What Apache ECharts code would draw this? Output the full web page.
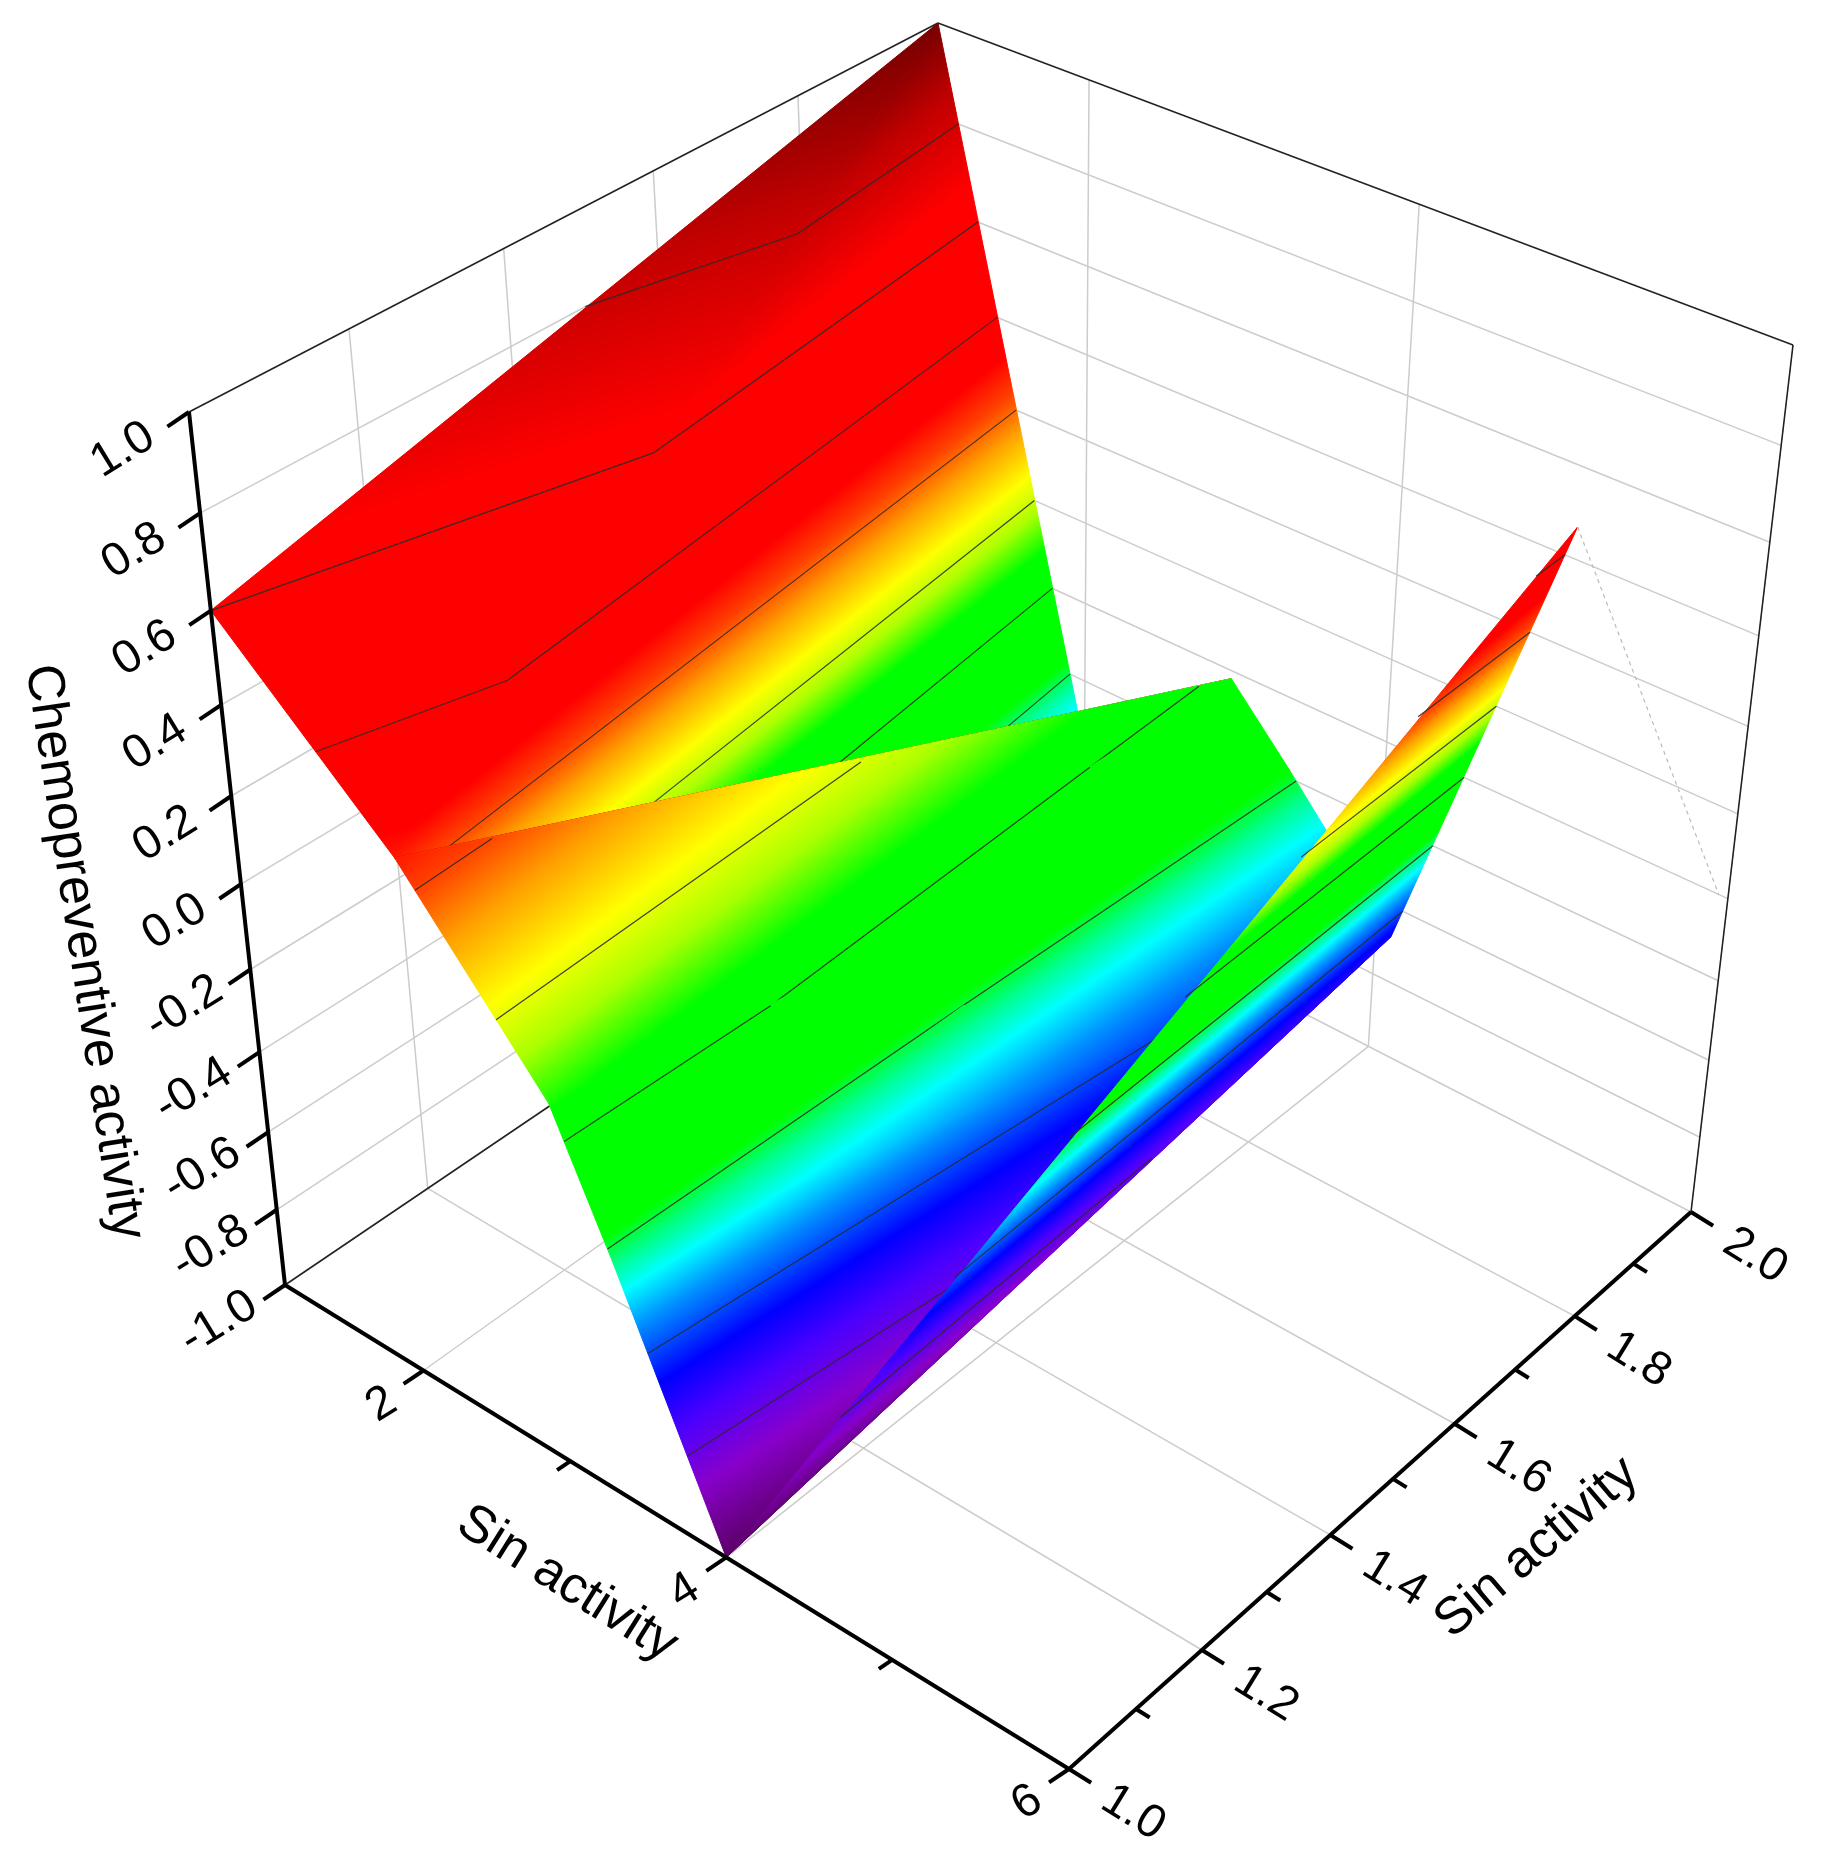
<!DOCTYPE html>
<html><head><meta charset="utf-8">
<script src="https://cdn.jsdelivr.net/npm/echarts@6/dist/echarts.min.js"></script>
<style>html,body{margin:0;padding:0;background:#fff}#c{width:1824px;height:1872px}</style>
</head><body><div id="c"></div>
<script>
// ---- data ----
const X_FRONT = [1, 2.1, 3.0, 3.35, 4.0];          // Sin activity (x) along row y=1
const Z_FRONT = [0.6, 0.25, -0.13, -0.42, -1.0];    // Chemopreventive activity at y=1
const X_BACK  = [1, 1.95, 3.0, 3.4, 4.1, 5.0, 5.95];// x along row y=2
const Z_BACK  = [1.0, -0.49, -0.22, -0.38, -0.68, 0.47, -0.2];
const Y_ROWS  = [1, 2];
const Z_TICKS = [-1.0,-0.8,-0.6,-0.4,-0.2,0.0,0.2,0.4,0.6,0.8,1.0];
const Z_LABELS = ['-1.0','-0.8','-0.6','-0.4','-0.2','0.0','0.2','0.4','0.6','0.8','1.0'];
const X_MAJOR = [2,4,6], X_LABELS = ['2','4','6'], X_MINOR = [3,5];
const Y_MAJOR = [1.0,1.2,1.4,1.6,1.8,2.0], Y_LABELS = ['1.0','1.2','1.4','1.6','1.8','2.0'];
const Y_MINOR = [1.1,1.3,1.5,1.7,1.9];
const CONTOURS = [-0.8,-0.6,-0.4,-0.2,0.0,0.2,0.4,0.6,0.8];

// ---- projection (oblique perspective box) ----
const CORNERS = {
 '000':[285,1285],'100':[1069,1769],'010':[953,833],'110':[1691,1212],
 '001':[189,412],'101':[1087,809],'011':[938,23],'111':[1793,345]};
function warp(t,a){return t/(a-(a-1)*t);}
function P(x,y,z){
  const u=warp((x-1)/5,1.165), v=warp((y-1)/1,0.92), w=warp((z+1)/2,1.178);
  const r=[0,0], C=CORNERS;
  const l=(a,b,t)=>a+(b-a)*t;
  for(let i=0;i<2;i++){
    const c00=l(C['000'][i],C['100'][i],u), c10=l(C['010'][i],C['110'][i],u);
    const c01=l(C['001'][i],C['101'][i],u), c11=l(C['011'][i],C['111'][i],u);
    r[i]=l(l(c00,c10,v),l(c01,c11,v),w);
  }
  return r;
}
const CMAP=[[-1.0,'#5c0066'],[-0.86,'#8800cc'],[-0.75,'#4a00ff'],[-0.66,'#0000ff'],[-0.55,'#0090ff'],
 [-0.48,'#00ffff'],[-0.43,'#00ff90'],[-0.38,'#00ff00'],[-0.14,'#00ff00'],[-0.06,'#aaff00'],[0.02,'#ffff00'],
 [0.12,'#ffa000'],[0.2,'#ff4000'],[0.28,'#ff0000'],[0.65,'#ff0000'],[0.85,'#c00000'],[1.0,'#780000']];
const stops=CMAP.map(s=>({offset:(s[0]+1)/2,color:s[1]}));

// ---- surface triangles ----
const F=i=>[X_FRONT[i],Y_ROWS[0],Z_FRONT[i]], B=i=>[X_BACK[i],Y_ROWS[1],Z_BACK[i]];
const tris=[];
for(let i=0;i<X_FRONT.length-1;i++){
  if(i===0){tris.push([F(i),B(i),F(i+1)]);tris.push([F(i+1),B(i),B(i+1)]);}
  else{tris.push([F(i),B(i),B(i+1)]);tris.push([F(i),B(i+1),F(i+1)]);}
}
tris.push([F(X_FRONT.length-1),B(X_FRONT.length-1),B(X_FRONT.length)]);

function triItem(t){
  const p=t.map(a=>P(a[0],a[1],a[2])), z=t.map(a=>a[2]);
  const d1=[p[1][0]-p[0][0],p[1][1]-p[0][1]], d2=[p[2][0]-p[0][0],p[2][1]-p[0][1]];
  const dz1=z[1]-z[0], dz2=z[2]-z[0];
  const det=d1[0]*d2[1]-d1[1]*d2[0];
  let fill='#00ff00';
  if(Math.abs(det)>1e-6){
    const gx=(dz1*d2[1]-dz2*d1[1])/det, gy=(d1[0]*dz2-d2[0]*dz1)/det, g2=gx*gx+gy*gy;
    if(g2>1e-12){
      const s=(-1-z[0])/g2, e=(1-z[0])/g2;
      fill=new echarts.graphic.LinearGradient(p[0][0]+gx*s,p[0][1]+gy*s,p[0][0]+gx*e,p[0][1]+gy*e,stops,true);
    }
  }
  const children=[{type:'polygon',shape:{points:p},style:{fill:fill,stroke:fill,lineWidth:1}}];
  CONTOURS.forEach(L=>{
    const pts=[];
    for(let k=0;k<3;k++){
      const a=t[k],b=t[(k+1)%3];
      const za=a[2]-L+1e-6, zb=b[2]-L+1e-6;
      if(za*zb<0){const f=za/(za-zb);pts.push(P(a[0]+(b[0]-a[0])*f,a[1]+(b[1]-a[1])*f,a[2]+(b[2]-a[2])*f));}
    }
    if(pts.length===2)children.push({type:'line',shape:{x1:pts[0][0],y1:pts[0][1],x2:pts[1][0],y2:pts[1][1]},style:{stroke:'#2a2a2a',lineWidth:1.2,opacity:0.9}});
  });
  return {type:'group',children};
}

// ---- frame segments ----
const GRID='#cccccc', DARK='#222222';
const seg=[];
Z_TICKS.slice(1,-1).forEach(z=>{seg.push([[1,2,z],[6,2,z],GRID,1.5]);seg.push([[1,1,z],[1,2,z],GRID,1.5]);});
X_MAJOR.slice(0,2).forEach(x=>{seg.push([[x,2,-1],[x,2,1],GRID,1.5]);seg.push([[x,1,-1],[x,2,-1],GRID,1.5]);});
[1.2,1.4,1.6,1.8].forEach(y=>{seg.push([[1,y,-1],[1,y,1],GRID,1.5]);seg.push([[1,y,-1],[6,y,-1],GRID,1.5]);});
seg.push([[1,2,-1],[6,2,-1],GRID,1.5]);
seg.push([[1,2,-1],[1,2,1],GRID,1.5]);
seg.push([[1,1,1],[1,2,1],DARK,1.6]);
seg.push([[1,2,1],[6,2,1],DARK,1.6]);
seg.push([[6,2,1],[6,2,-1],DARK,1.6]);
seg.push([[1,1,-1],[1,2,-1],DARK,1.6]);
const frontSeg=[];
frontSeg.push([[X_BACK[5],2,Z_BACK[5]],[X_BACK[6],2,Z_BACK[6]],'#bbbbbb',1.2,[4,4]]);
frontSeg.push([[1,1,-1],[1,1,1],'#000',4]);
frontSeg.push([[1,1,-1],[6,1,-1],'#000',4]);
frontSeg.push([[6,1,-1],[6,2,-1],'#000',4]);
function segItem(s){const a=P(...s[0]),b=P(...s[1]);
  return {type:'line',shape:{x1:a[0],y1:a[1],x2:b[0],y2:b[1]},style:{stroke:s[2],lineWidth:s[3],lineDash:s[4]||null}};}
function tick(pt,dx,dy,len){const a=P(...pt);return {type:'line',shape:{x1:a[0],y1:a[1],x2:a[0]+dx*len,y2:a[1]+dy*len},style:{stroke:'#000',lineWidth:4}};}
const FONT='47px "Liberation Sans", Arial, sans-serif';
function txt(x,y,s,rot,font){return {type:'text',x:x,y:y,rotation:rot,style:{text:s,font:font||FONT,fill:'#000',align:'center',verticalAlign:'middle'}};}
const ann=[];
Z_TICKS.forEach((z,i)=>{ann.push(tick([1,1,z],-0.83,0.56,26));const p=P(1,1,z);ann.push(txt(p[0]-66,p[1]+38,Z_LABELS[i],0.55));});
X_MAJOR.forEach((x,i)=>{ann.push(tick([x,1,-1],-0.83,0.56,24));const p=P(x,1,-1);ann.push(txt(p[0]-42,p[1]+34,X_LABELS[i],0.55));});
X_MINOR.forEach(x=>ann.push(tick([x,1,-1],-0.83,0.56,16)));
Y_MAJOR.forEach((y,i)=>{ann.push(tick([6,y,-1],0.85,0.53,26));const p=P(6,y,-1);ann.push(txt(p[0]+64,p[1]+44,Y_LABELS[i],-0.55));});
Y_MINOR.forEach(y=>ann.push(tick([6,y,-1],0.85,0.53,16)));
const TF='52px "Liberation Sans", Arial, sans-serif';
ann.push(txt(84,952,'Chemopreventive activity',-1.42,TF));
ann.push(txt(567,1584,'Sin activity',-0.56,TF));
ann.push(txt(1537,1548,'Sin activity',0.707,TF));

const chart=echarts.init(document.getElementById('c'),null,{renderer:'canvas'});
chart.setOption({animation:false,
 series:[
  {type:'custom',coordinateSystem:'none',data:seg.map((s,i)=>i),z:1,renderItem:(p)=>segItem(seg[p.dataIndex])},
  {type:'custom',coordinateSystem:'none',data:tris.map((t,i)=>i),z:2,renderItem:(p)=>triItem(tris[p.dataIndex])},
  {type:'custom',coordinateSystem:'none',data:frontSeg.map((s,i)=>i),z:3,renderItem:(p)=>segItem(frontSeg[p.dataIndex])},
  {type:'custom',coordinateSystem:'none',data:ann.map((s,i)=>i),z:4,renderItem:(p)=>ann[p.dataIndex]}
 ]});
</script></body></html>
